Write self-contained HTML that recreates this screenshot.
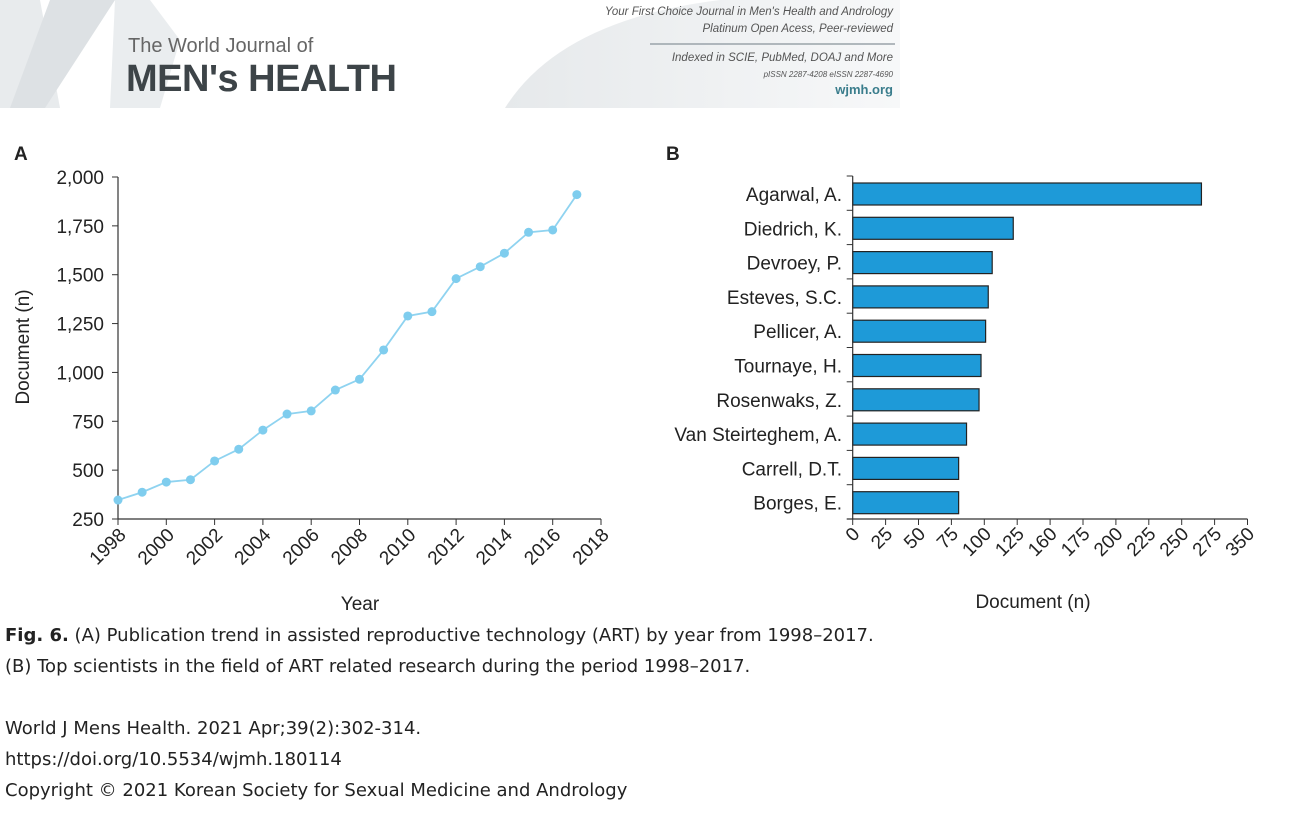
<!DOCTYPE html>
<html><head><meta charset="utf-8"><style>
body{margin:0;background:#fff;width:1295px;height:816px;overflow:hidden;position:relative;font-family:"Liberation Sans",sans-serif;color:#222}
.abs{position:absolute;white-space:nowrap}
.cap{font-family:"DejaVu Sans","Liberation Sans",sans-serif;font-size:18px;color:#222}
</style></head><body>
<svg class="abs" style="left:0;top:0" width="1295" height="112">
<defs><linearGradient id="g1" x1="0" x2="1"><stop offset="0" stop-color="#e6e9eb"/><stop offset="1" stop-color="#f7f8f9"/></linearGradient></defs>
<polygon points="0,0 40,0 60,108 0,108" fill="#e8ebed"/>
<polygon points="50,0 115,0 45,108 10,108" fill="#dde1e4"/>
<polygon points="115,0 150,0 180,40 160,108 110,108" fill="#eaedef"/>
<path d="M505,108 Q560,20 720,0 L900,0 L900,108 Z" fill="url(#g1)"/>
<line x1="650" y1="44" x2="895" y2="44" stroke="#9aa3a9" stroke-width="1.5"/>
</svg>
<div class="abs" style="left:128px;top:35px;font-size:20px;color:#666">The World Journal of</div>
<div class="abs" style="left:126px;top:58px;font-size:38px;font-weight:bold;color:#3d4448;letter-spacing:-0.5px">MEN's HEALTH</div>
<div class="abs" style="right:402px;top:4px;font-size:11.5px;font-style:italic;color:#555;text-align:right;line-height:17px">Your First Choice Journal in Men's Health and Andrology<br>Platinum Open Acess, Peer-reviewed</div>
<div class="abs" style="right:402px;top:50px;font-size:11.5px;font-style:italic;color:#555;text-align:right;line-height:16px">Indexed in SCIE, PubMed, DOAJ and More<br><span style="font-size:8px">pISSN 2287-4208 eISSN 2287-4690</span></div>
<div class="abs" style="right:402px;top:82px;font-size:13px;font-weight:bold;color:#3a7d8c">wjmh.org</div>

<svg id="chartA" class="abs" style="left:0;top:130px" width="640" height="490"></svg>
<svg id="chartB" class="abs" style="left:640px;top:130px" width="655" height="490"></svg>

<div class="abs cap" style="left:5px;top:620px;line-height:31px"><b>Fig. 6.</b> (A) Publication trend in assisted reproductive technology (ART) by year from 1998–2017.<br>(B) Top scientists in the field of ART related research during the period 1998–2017.</div>
<div class="abs cap" style="left:5px;top:713px;line-height:31px">World J Mens Health. 2021 Apr;39(2):302-314.<br><span>https://doi.org/10.5534/wjmh.180114</span><br>Copyright © 2021 Korean Society for Sexual Medicine and Andrology</div>

<script>
const years=[1998,1999,2000,2001,2002,2003,2004,2005,2006,2007,2008,2009,2010,2011,2012,2013,2014,2015,2016,2017];
const docs=[347,387,439,451,547,607,705,787,803,910,965,1115,1289,1311,1480,1541,1610,1717,1729,1910];
const yTicksA=[250,500,750,1000,1250,1500,1750,2000];
const xTicksA=[1998,2000,2002,2004,2006,2008,2010,2012,2014,2016,2018];
const authors=["Agarwal, A.","Diedrich, K.","Devroey, P.","Esteves, S.C.","Pellicer, A.","Tournaye, H.","Rosenwaks, Z.","Van Steirteghem, A.","Carrell, D.T.","Borges, E."];
const counts=[265,122,106,103,101,97.5,96,86.5,80.5,80.5];
const xTickLabelsB=["0","25","50","75","100","125","160","175","200","225","250","275","350"];
const NS="http://www.w3.org/2000/svg";
function mk(p,t,a,txt){const e=document.createElementNS(NS,t);for(const k in a)e.setAttribute(k,a[k]);if(txt!==undefined)e.textContent=txt;p.appendChild(e);return e;}
const fontA={"font-family":"Liberation Sans, sans-serif","font-size":"19","fill":"#222"};
// Chart A
const A=document.getElementById('chartA');
const xA=y=>118+(y-1998)*24.15, yA=v=>389-(v-250)*(342/1750);
const pa=mk(A,'text',{x:14,y:30,"font-size":19,"font-weight":"bold","font-family":"Liberation Sans, sans-serif",fill:"#222"},"A");

const yax=mk(A,'line',{x1:118,y1:yA(2000),x2:118,y2:389,stroke:"#333","stroke-width":1.2});

const xax=mk(A,'line',{x1:118,y1:389,x2:xA(2018),y2:389,stroke:"#333","stroke-width":1.2});

yTicksA.forEach(v=>{
 const l=mk(A,'line',{x1:112,y1:yA(v),x2:118,y2:yA(v),stroke:"#333"});
 
 const t=mk(A,'text',Object.assign({x:104,y:yA(v)+7,"text-anchor":"end"},fontA),v.toLocaleString('en-US'));
 
});
xTicksA.forEach(y=>{
 const l=mk(A,'line',{x1:xA(y),y1:389,x2:xA(y),y2:395,stroke:"#333"});
 
 const t=mk(A,'text',Object.assign({x:xA(y)+9,y:406,"text-anchor":"end",transform:`rotate(-45 ${xA(y)+9} 406)`},fontA),y);
 
});
const ytA=mk(A,'text',Object.assign({x:0,y:0,"text-anchor":"middle",transform:"translate(29 217) rotate(-90)"},fontA),"Document (n)");

const xtA=mk(A,'text',Object.assign({x:360,y:480,"text-anchor":"middle"},fontA),"Year");

const ln=mk(A,'polyline',{points:years.map((y,i)=>xA(y)+','+yA(docs[i])).join(' '),fill:"none",stroke:"#8fd3f0","stroke-width":1.8});

years.forEach((y,i)=>{
 const c=mk(A,'circle',{cx:xA(y),cy:yA(docs[i]),r:4.5,fill:"#7fcdee"});
 
});
// Chart B
const B=document.getElementById('chartB');
const x0=212.7, per=32.9/25, topB=46, band=34.3;
const xB=v=>x0+v*per;
const pb=mk(B,'text',{x:26,y:30,"font-size":19,"font-weight":"bold","font-family":"Liberation Sans, sans-serif",fill:"#222"},"B");

authors.forEach((a,i)=>{
 const b=mk(B,'rect',{x:x0,y:topB+i*band+7,width:xB(counts[i])-x0,height:22,fill:"#1e9ad8",stroke:"#222","stroke-width":1.2});
 
 const t=mk(B,'text',Object.assign({x:202,y:topB+i*band+25,"text-anchor":"end"},fontA),a);
 
 const tk=mk(B,'line',{x1:x0-6,y1:topB+i*band,x2:x0,y2:topB+i*band,stroke:"#333"});
 
});
const bottomB=topB+authors.length*band;
const ybx=mk(B,'line',{x1:x0,y1:topB,x2:x0,y2:bottomB,stroke:"#333","stroke-width":1.2});

const xbx=mk(B,'line',{x1:x0-6,y1:bottomB,x2:xB(300),y2:bottomB,stroke:"#333","stroke-width":1.2});

xTickLabelsB.forEach((s,i)=>{
 const xx=xB(i*25);
 const l=mk(B,'line',{x1:xx,y1:bottomB,x2:xx,y2:bottomB+6,stroke:"#333"});
 
 const t=mk(B,'text',Object.assign({x:xx+8,y:bottomB+16,"text-anchor":"end",transform:`rotate(-45 ${xx+8} ${bottomB+16})`},fontA),s);
 
});
const xtB=mk(B,'text',Object.assign({x:393,y:478,"text-anchor":"middle"},fontA),"Document (n)");

</script>
</body></html>
